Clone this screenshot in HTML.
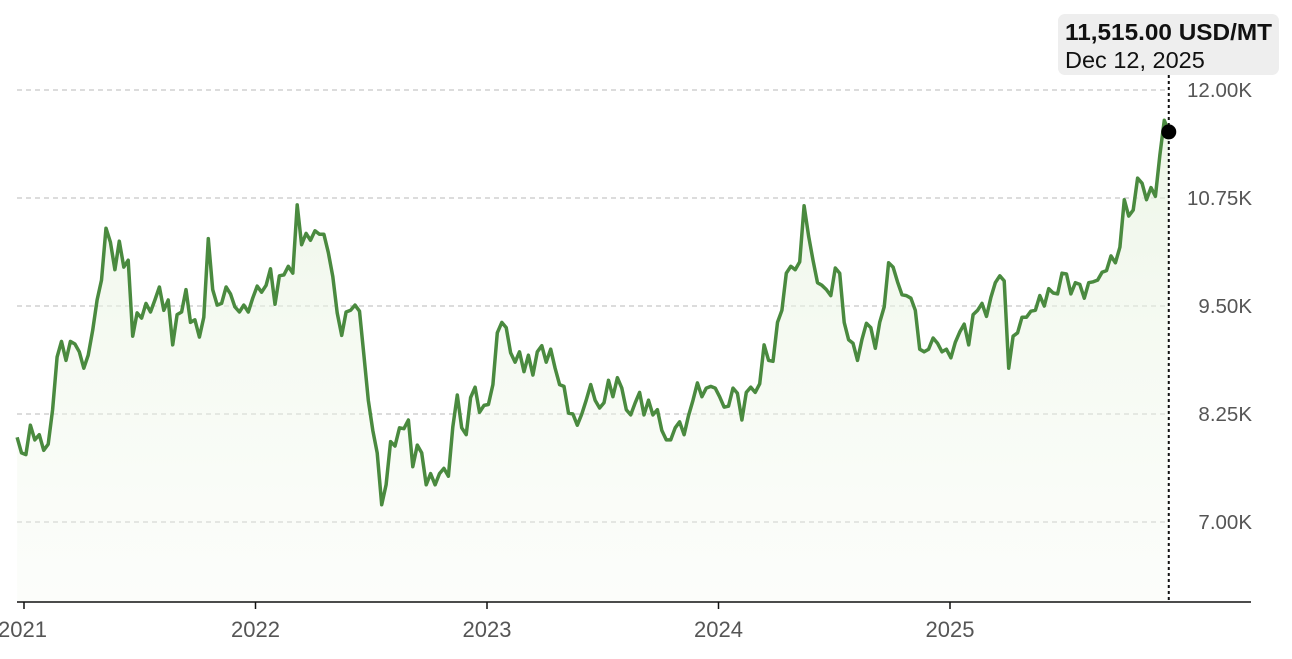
<!DOCTYPE html>
<html><head><meta charset="utf-8"><style>
html,body{margin:0;padding:0;background:#fff;}
body{width:1292px;height:654px;overflow:hidden;font-family:"Liberation Sans",sans-serif;}
</style></head><body>
<svg id="chart" width="1292" height="654" xmlns="http://www.w3.org/2000/svg">
<defs><linearGradient id="fillg" x1="0" y1="0" x2="0" y2="1"><stop offset="0" stop-color="#e6f2de" stop-opacity="0.7"/><stop offset="1" stop-color="#f4f9f0" stop-opacity="0.3"/></linearGradient></defs>
<g id="grid"></g><path id="area" fill="url(#fillg)"/>
<path id="line" fill="none" stroke="#4a8a3f" stroke-width="3.5" stroke-linejoin="round"/>
<g id="xaxis"></g>
</svg>
<script>
const yTicks=[12000,10750,9500,8250,7000];
const yTickLabels=["12.00K","10.75K","9.50K","8.25K","7.00K"];
const xTicks=[2021,2022,2023,2024,2025];
const xTickLabels=["2021","2022","2023","2024","2025"];
const startDate=2020.97, endDate=2025.945;
const lastLabel="11,515.00 USD/MT", lastDate="Dec 12, 2025";
const values=[7.98,7.80,7.78,8.12,7.95,8.01,7.83,7.90,8.30,8.91,9.09,8.87,9.09,9.06,8.97,8.78,8.93,9.22,9.57,9.80,10.40,10.24,9.92,10.25,9.95,10.03,9.15,9.42,9.36,9.53,9.43,9.57,9.72,9.45,9.57,9.05,9.40,9.43,9.69,9.31,9.34,9.14,9.37,10.28,9.69,9.51,9.53,9.72,9.64,9.49,9.43,9.51,9.43,9.59,9.73,9.66,9.74,9.93,9.52,9.85,9.86,9.96,9.88,10.67,10.21,10.34,10.26,10.37,10.33,10.33,10.12,9.84,9.42,9.16,9.43,9.45,9.51,9.44,8.93,8.41,8.06,7.80,7.20,7.43,7.93,7.88,8.09,8.08,8.18,7.64,7.89,7.80,7.43,7.56,7.43,7.56,7.62,7.53,8.10,8.47,8.09,8.01,8.44,8.56,8.27,8.35,8.36,8.59,9.19,9.31,9.25,8.96,8.85,8.97,8.74,8.93,8.70,8.97,9.04,8.85,9.00,8.78,8.59,8.57,8.26,8.25,8.12,8.25,8.41,8.59,8.41,8.32,8.38,8.64,8.45,8.67,8.55,8.30,8.24,8.38,8.50,8.24,8.41,8.24,8.30,8.06,7.95,7.95,8.09,8.16,8.01,8.23,8.41,8.61,8.45,8.55,8.57,8.55,8.45,8.33,8.34,8.55,8.49,8.18,8.50,8.56,8.50,8.60,9.05,8.87,8.86,9.31,9.45,9.88,9.96,9.92,10.01,10.66,10.31,10.03,9.77,9.74,9.69,9.62,9.94,9.88,9.31,9.11,9.07,8.87,9.11,9.30,9.25,9.01,9.31,9.49,10.00,9.95,9.78,9.63,9.62,9.59,9.45,9.00,8.97,9.00,9.13,9.07,8.97,9.00,8.90,9.08,9.20,9.29,9.05,9.40,9.45,9.53,9.38,9.60,9.77,9.85,9.79,8.78,9.15,9.19,9.37,9.37,9.44,9.45,9.62,9.50,9.70,9.65,9.64,9.88,9.87,9.64,9.77,9.75,9.59,9.77,9.78,9.80,9.89,9.91,10.08,10.00,10.18,10.73,10.54,10.61,10.98,10.92,10.73,10.87,10.77,11.25,11.65,11.515];

const NS="http://www.w3.org/2000/svg";
const xs=t=>24+(t-2021)*231.5;
const ys=v=>90+(12000-v)*432/5000;
const svg=document.getElementById('chart');
function mk(tag,attrs,parent){const e=document.createElementNS(NS,tag);for(const k in attrs)e.setAttribute(k,attrs[k]);(parent||svg).appendChild(e);return e;}
const grid=document.getElementById('grid');
yTicks.forEach((v,i)=>{
  const l=mk('line',{x1:17,x2:1165,y1:ys(v),y2:ys(v),stroke:'#c8c8c8','stroke-width':1.3,'stroke-dasharray':'5,4'},grid);
  
  
  const t=mk('text',{x:1252,y:ys(v)+7,'text-anchor':'end','font-size':20.5,fill:'#555'},grid);
  t.textContent=yTickLabels[i];
  
  
});
const N=values.length;
const pts=values.map((v,i)=>[xs(startDate+(endDate-startDate)*i/(N-1)),ys(v*1000)]);
const d='M'+pts.map(p=>p[0].toFixed(1)+','+p[1].toFixed(1)).join('L');
document.getElementById('line').setAttribute('d',d);
document.getElementById('area').setAttribute('d',d+'L'+pts[N-1][0].toFixed(1)+',602L'+pts[0][0].toFixed(1)+',602Z');
const xa=document.getElementById('xaxis');
const ax=mk('line',{x1:17,x2:1251,y1:602,y2:602,stroke:'#111','stroke-width':1.5},xa);


xTicks.forEach((y,i)=>{
  const tk=mk('line',{x1:xs(y),x2:xs(y),y1:602,y2:609,stroke:'#111','stroke-width':1.5},xa);
  
  
  const t=i===0 ? mk('text',{x:47,y:637,'text-anchor':'end','font-size':22,fill:'#555'},xa)
                : mk('text',{x:xs(y),y:637,'text-anchor':'middle','font-size':22,fill:'#555'},xa);
  t.textContent=xTickLabels[i];
  
  
});
const lx=pts[N-1][0], ly=pts[N-1][1];
const vl=mk('line',{x1:lx,x2:lx,y1:75,y2:600,stroke:'#111','stroke-width':2,'stroke-dasharray':'3,3'});


const dot=mk('circle',{cx:lx,cy:ly,r:7.5,fill:'#000'});


const tb=mk('rect',{x:1058,y:14,width:221,height:61,rx:7,fill:'#eeeeee'});


const t1=mk('text',{x:1065,y:40,'font-size':23.5,'font-weight':'bold',fill:'#111',textLength:207,lengthAdjust:'spacingAndGlyphs'});
t1.textContent=lastLabel;


const t2=mk('text',{x:1065,y:68,'font-size':23.5,fill:'#111'});
t2.textContent=lastDate;


</script>
</body></html>
